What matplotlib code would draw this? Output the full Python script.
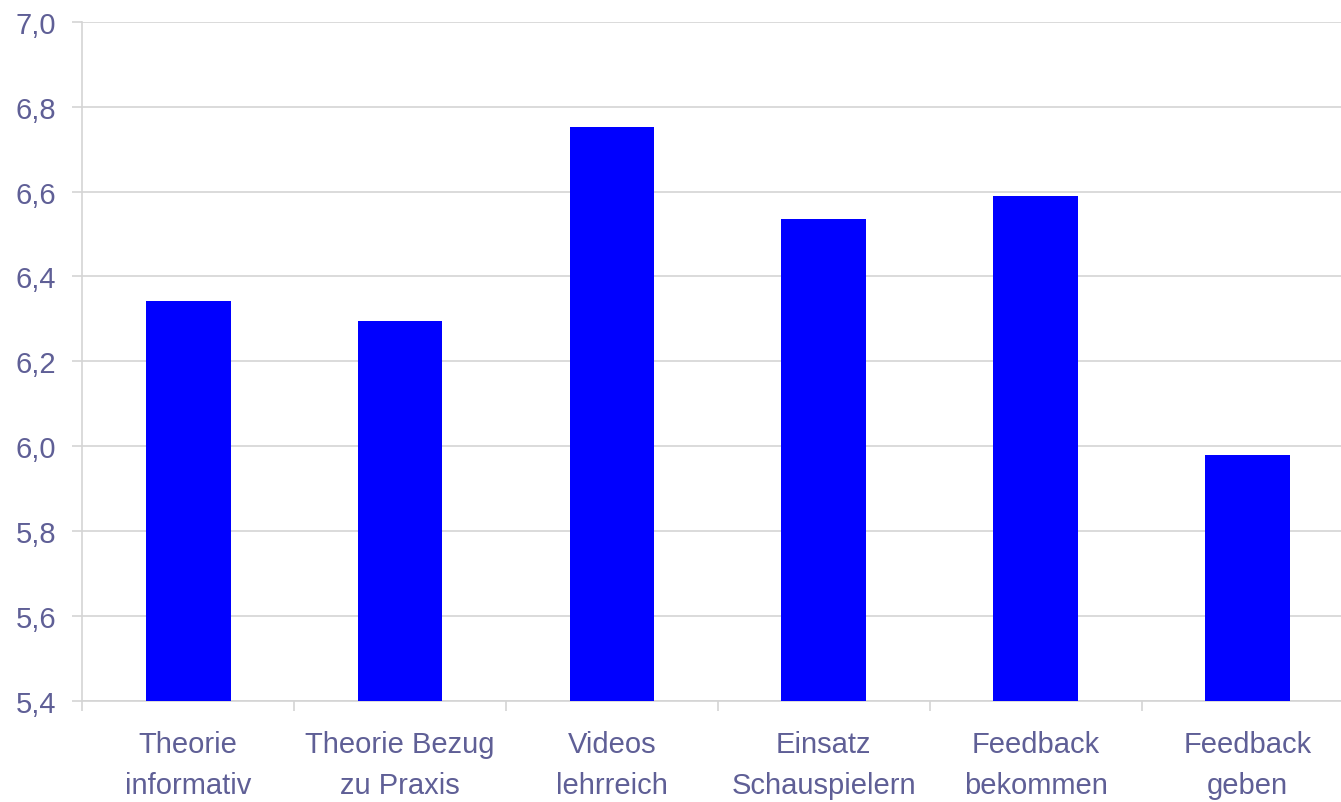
import numpy as np
import matplotlib.pyplot as plt
from matplotlib.ticker import FuncFormatter, MultipleLocator

categories = ["Theorie\ninformativ", "Theorie Bezug\nzu Praxis", "Videos\nlehrreich",
              "Einsatz\nSchauspielern", "Feedback\nbekommen", "Feedback\ngeben"]
values = [6.342, 6.295, 6.753, 6.535, 6.589, 5.980]

text_color = "#5f5f96"
grid_color = "#d4d4d4"

plt.rcParams["font.family"] = ["Liberation Sans", "DejaVu Sans"]

fig = plt.figure(figsize=(13.41, 8.03), dpi=100)
# plot area runs slightly past the right edge of the canvas
ax = fig.add_axes([82.3 / 1341, 101 / 803, 1271.2 / 1341, 0.8459])

x = np.arange(len(categories))
ax.bar(x, values, width=0.4, color="#0000ff", zorder=3)

ax.set_ylim(5.4, 7.0)
ax.set_xlim(-0.5, len(categories) - 0.5)
ax.yaxis.set_major_locator(MultipleLocator(0.2))
ax.yaxis.set_major_formatter(FuncFormatter(lambda v, p: f"{v:.1f}".replace(".", ",")))
ax.grid(axis="y", color=grid_color, linewidth=1.2, zorder=0)

ax.set_xticks(x)
ax.set_xticklabels(categories, linespacing=1.6)
ax.set_xticks(np.arange(len(categories) + 1) - 0.5, minor=True)
ax.tick_params(axis="x", which="major", length=0, pad=21, labelsize=21, labelcolor=text_color)
ax.tick_params(axis="x", which="minor", length=7, width=1.2, color=grid_color)
ax.tick_params(axis="y", length=7, width=1.2, color=grid_color, pad=12,
               labelsize=21, labelcolor=text_color)

for side in ["top", "right"]:
    ax.spines[side].set_visible(False)
for side in ["left", "bottom"]:
    ax.spines[side].set_color(grid_color)
    ax.spines[side].set_linewidth(1.2)

fig.savefig("out.png", dpi=100)
